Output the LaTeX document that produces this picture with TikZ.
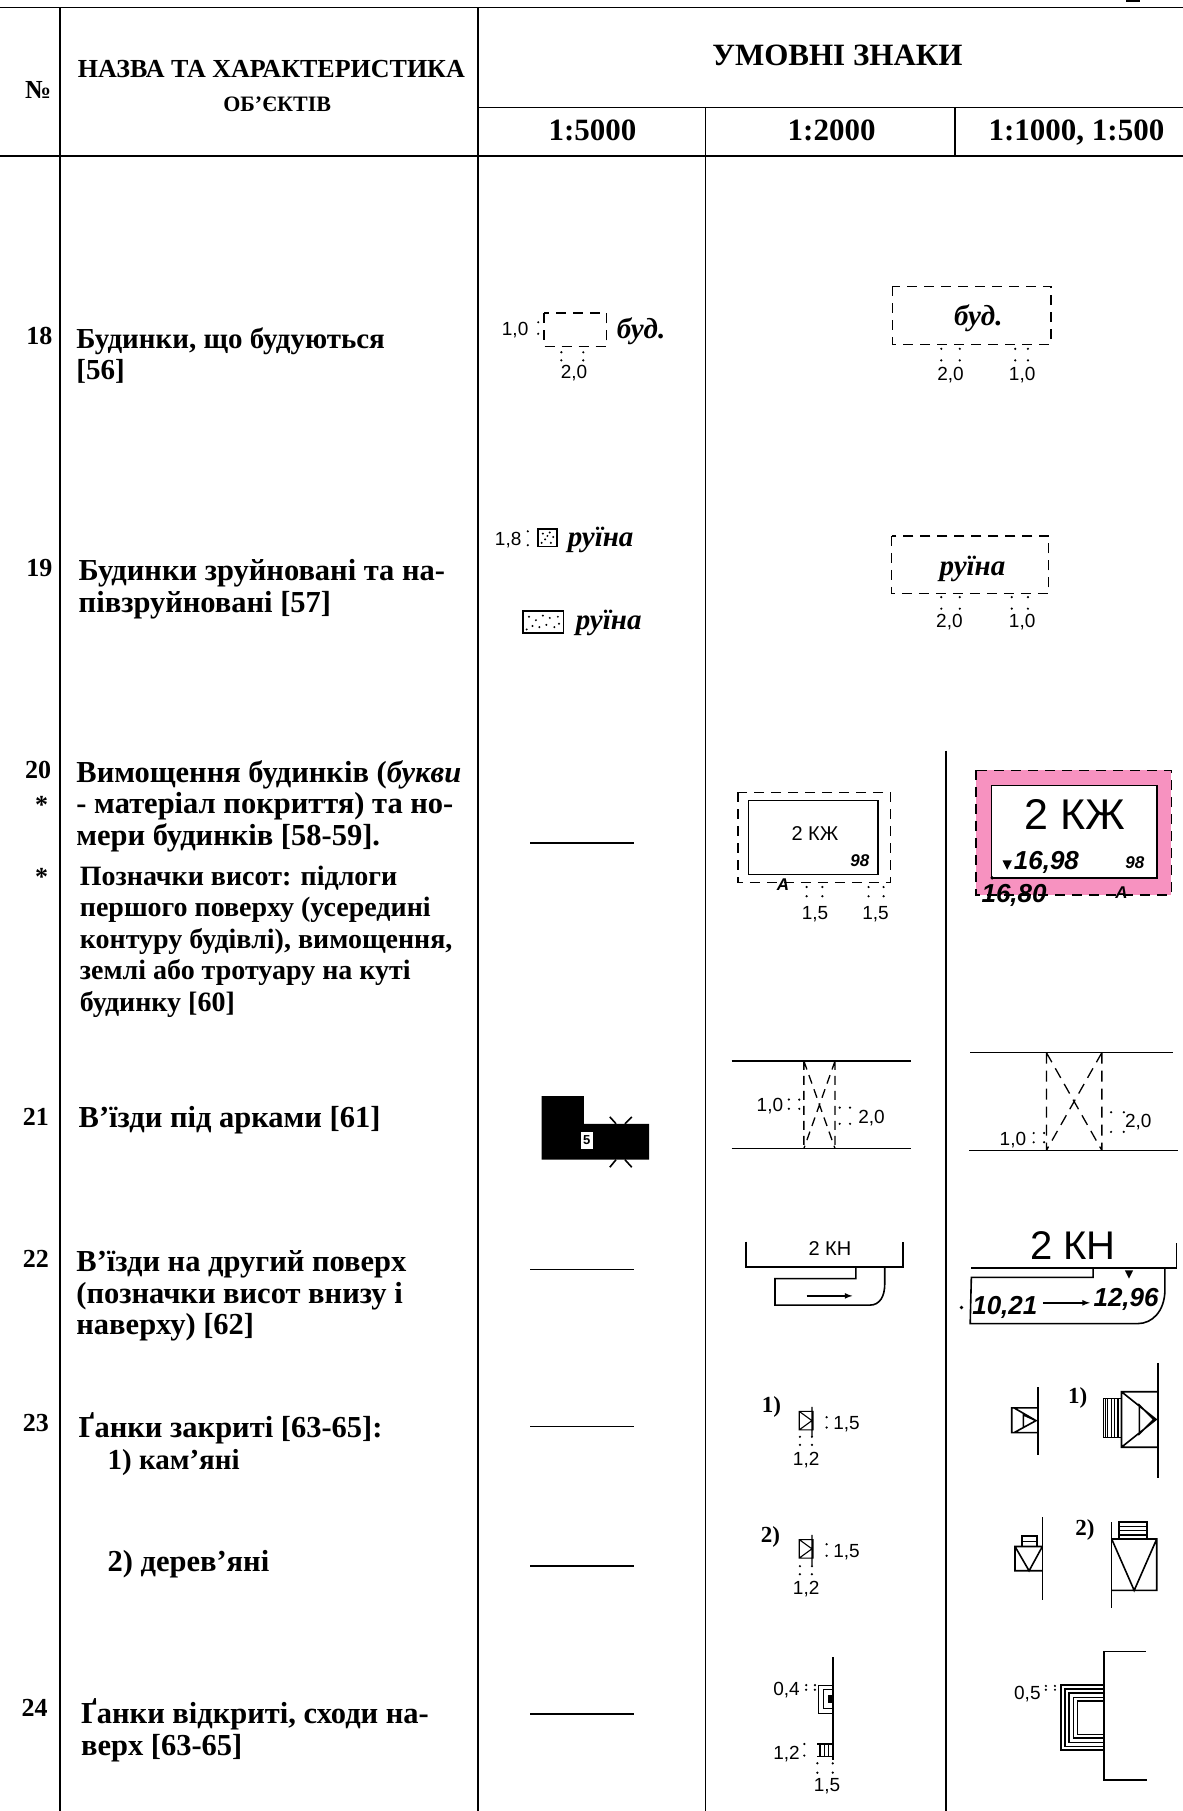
\documentclass[tikz,border=0pt]{standalone}
\usepackage{fontspec}
\setmainfont{Liberation Serif}
\setsansfont{Liberation Sans}
\usetikzlibrary{arrows}
\definecolor{ruinpink}{RGB}{247,146,192}
\newcommand{\rowfont}{\fontsize{30.5}{31.5}\selectfont\bfseries}
\newcommand{\tightfont}{\fontsize{29}{31.5}\selectfont\bfseries}
\newcommand{\heightfont}{\fontsize{28}{31.5}\selectfont\bfseries}
\tikzstyle{grid}=[draw,line width=1.6pt]
\tikzstyle{headtext}=[font=\fontsize{31}{33}\selectfont\bfseries,inner sep=0pt]
\tikzstyle{nametext}=[font=\fontsize{26}{30}\selectfont\bfseries,inner sep=0pt]
\tikzstyle{rownum}=[font=\fontsize{26}{30}\selectfont\bfseries,inner sep=0pt]
\tikzstyle{rowtext}=[font=\rowfont,anchor=west,align=left,inner sep=0pt]
\tikzstyle{tightrow}=[font=\tightfont,anchor=west,align=left,inner sep=0pt]
\tikzstyle{dimlabel}=[font=\fontsize{19}{20}\selectfont\sffamily,inner sep=0pt,yshift=-2pt]
\tikzstyle{italmark}=[font=\fontsize{29}{30}\selectfont\bfseries\itshape,inner sep=0pt,yshift=-2pt]
\tikzstyle{marksans}=[font=\fontsize{26}{28}\selectfont\sffamily\bfseries\itshape,inner sep=0pt]
\tikzstyle{smallmark}=[font=\fontsize{17}{18}\selectfont\sffamily\bfseries\itshape,inner sep=0pt]
\tikzstyle{hname}=[inner sep=0pt]
\tikzstyle{dashbox}=[draw,line width=1.3pt,dash pattern=on 10pt off 7pt]
\tikzstyle{symline}=[draw,line width=1.6pt]
\tikzstyle{thinline}=[draw,line width=1.1pt]
\tikzstyle{dimdot}=[fill=black]
\begin{document}
\begin{tikzpicture}[x=1.155pt,y=-1.155pt]
    \useasboundingbox (0,0) rectangle (1024.2,1568);

    % Draw the table rules
    \foreach \from/\to in {{(0,6.5)/(1024,6.5)}, {(414,93)/(1024,93)}, {(0,135)/(1024,135)}, {(52,6.5)/(52,1568)}, {(414,6.5)/(414,1568)}, {(611,93)/(611,1568)}, {(827,93)/(827,135)}, {(819,650)/(819,1568)}}
        \path[grid] \from -- \to;
    \fill (975,0) rectangle (987,2);

    % Then the header
    \foreach \pos/\name/\label in {{(725,48)/hsigns/УМОВНІ ЗНАКИ}, {(513,113)/hA/1:5000}, {(720,113)/hB/1:2000}, {(932,115)/hC/1:1000, 1:500}}
        \node[headtext] (\name) at \pos {\label};
    \node[nametext] (hnum) at (33,78) {№};
    \node[nametext] (hname1) at (235,60) {НАЗВА ТА ХАРАКТЕРИСТИКА};
    \node[nametext,font=\fontsize{22}{24}\selectfont\bfseries] (hname2) at (240,90) {ОБ'ЄКТІВ};

    % Row numbers
    \foreach \pos/\name/\label in {{(34,291)/n18/18}, {(34,492)/n19/19}, {(33,667)/n20/20}, {(36,697)/s1/*}, {(36,759)/s2/*}, {(31,967)/n21/21}, {(31,1090)/n22/22}, {(31,1232)/n23/23}, {(30,1479)/n24/24}}
        \node[rownum] (\name) at \pos {\label};

    % Row texts
    \node[tightrow] (t18) at (66,308) {Будинки, що будуються\\{}[56]};
    \node[rowtext] (t19) at (68,510) {Будинки зруйновані та на-\\півзруйновані [57]};
    \node[rowtext] (t20a) at (66,698) {Вимощення будинків (\textit{букви}\\- матеріал покриття) та но-\\мери будинків [58-59].};
    \node[rowtext,font=\heightfont] (t20b) at (69,815) {Позначки висот: підлоги\\першого поверху (усередині\\контуру будівлі), вимощення,\\землі або тротуару на куті\\будинку [60]};
    \node[rowtext] (t21) at (68,970) {В'їзди під арками [61]};
    \node[rowtext] (t22) at (66,1122) {В'їзди на другий поверх\\(позначки висот внизу і\\наверху) [62]};
    \node[rowtext] (t23) at (68,1237) {Ґанки закриті [63-65]:};
    \node[tightrow] (t23a) at (93,1266) {1) кам'яні};
    \node[rowtext] (t23b) at (93,1354) {2) дерев'яні};
    \node[rowtext] (t24) at (70,1498) {Ґанки відкриті, сходи на-\\верх [63-65]};

    % Dashes of the 1:5000 column
    \foreach \ypos in {730,1099,1235,1356,1484}
        \path[symline] (459,\ypos) -- (549,\ypos);

    % Pink fill below the 1:1000 house
    \fill[ruinpink] (845,667) rectangle (1014,775);
    \path[fill=white,symline] (858.5,680) rectangle (1001.5,760);

    % Dashed contours
    \foreach \corner/\other in {{(471,271)/(525,300)}, {(773,248)/(910,298)}, {(772,464)/(908,514)}, {(639,686)/(771,764)}, {(845,667)/(1014,775)}}
        \path[dashbox] \corner rectangle \other;

    % Dimension labels
    \foreach \pos/\name/\label in {{(446,284)/d1/1,0}, {(497,321)/d2/2,0}, {(823,323)/d3/2,0}, {(885,323)/d4/1,0}, {(440,466)/d5/1,8}, {(822,537)/d6/2,0}, {(885,537)/d7/1,0}, {(705.6,790)/d8/1,5}, {(758,790)/d9/1,5}, {(666.6,956)/d10/1,0}, {(754.6,966)/d11/2,0}, {(877,985.6)/d12/1,0}, {(985.5,969.7)/d13/2,0}, {(733,1231)/d14/1,5}, {(698,1262)/d15/1,2}, {(733,1342)/d16/1,5}, {(698,1374)/d17/1,2}, {(681,1461.8)/d18/0,4}, {(681,1516.6)/d19/1,2}, {(716,1545)/d20/1,5}, {(889.5,1465)/d21/0,5}}
        \node[dimlabel] (\name) at \pos {\label};

    % Dots of the dimensions
    \foreach \pos in {(466,279),(466,289),(486,305),(486,312),(505,305),(505,312),(815,302),(815,312),(831,302),(831,312),(879,302),(879,312),(890,302),(890,312),(457,460),(457,472),(815,517),(815,527),(831,517),(831,527),(876,517),(876,527),(890,517),(890,527),(698.4,768),(698.4,776),(712,768),(712,776),(752,768),(752,776),(765,768),(765,776),(683,952),(683,960),(692,952),(692,960),(727,959),(727,973),(736,959),(736,973),(895,981),(895,989),(904,981),(904,989),(962,963),(962,980),(973,963),(973,980),(715.7,1227),(715.7,1236),(692.6,1244),(692.6,1251),(703,1244),(703,1251),(715.7,1337),(715.7,1347),(692.6,1356),(692.6,1363),(703,1356),(703,1363),(698,1459),(698,1463),(705.6,1459),(705.6,1463),(696.4,1510),(696.4,1520),(707.7,1526.7),(707.7,1534.8),(721,1526.7),(721,1534.8),(905.6,1459.7),(905.6,1463),(913.4,1459.7),(913.4,1463)}
        \path[dimdot] \pos circle (1.05);

    % Italic marks
    \foreach \pos/\name/\label in {{(555,285)/m1/буд.}, {(847,274)/m2/буд.}, {(520,466)/m3/руїна}, {(527,538)/m4/руїна}, {(842,491)/m5/руїна}}
        \node[italmark] (\name) at \pos {\label};
    \foreach \pos/\name/\label in {{(906,747)/m6/16,98}, {(878,775)/m7/16,80}, {(870,1132)/m8/10,21}, {(975,1125)/m9/12,96}}
        \node[marksans] (\name) at \pos {\label};
    \foreach \pos/\name/\label in {{(744.5,745)/m10/98}, {(678,766)/m11/А}, {(982.6,747)/m12/98}, {(971,773)/m13/А}}
        \node[smallmark] (\name) at \pos {\label};

    % Ruin symbols at 1:5000
    \path[symline] (466,458) rectangle (482,473);
    \path[symline] (453,529) rectangle (488,548);
    \foreach \pos in {(470,462),(476,461),(479,465),(472,467),(477,470),(469,470),(474,464),(458,534),(464,537),(470,533),(476,535),(483,534),(461,542),(467,543),(473,541),(480,543),(484,540),(456,545)}
        \path[dimdot] \pos circle (0.95);

    % House numbers and letters in sans
    \node[hname,font=\fontsize{20}{22}\selectfont\sffamily] (h1) at (705.6,722) {2 КЖ};
    \node[hname,font=\fontsize{43}{45}\selectfont\sffamily] (h2) at (930.7,705) {2 КЖ};
    \node[hname,font=\fontsize{20}{22}\selectfont\sffamily] (h3) at (718.6,1081) {2 КН};
    \node[hname,font=\fontsize{40}{42}\selectfont\sffamily] (h4) at (929,1078) {2 КН};

    % 2000 house
    \path[symline] (648,693) rectangle (760,757);
    \fill (868,745) -- (876,745) -- (872,753) -- cycle;
    \fill (859,760) circle (1.6);

    % Arch at 1:5000
    \fill (469,949) -- (505.6,949) -- (505.6,973) -- (562,973) -- (562,1004) -- (469,1004) -- cycle;
    \path[symline] (528,967) -- (533.4,973) (547,967) -- (541,973) (533.4,1004) -- (528,1010.6) (541,1004) -- (547,1010.6);
    \fill[white] (502.8,980) rectangle (513,995);
    \node[font=\fontsize{13}{14}\selectfont\sffamily\bfseries,inner sep=0pt] (a5) at (508,987.5) {5};

    % Arch at 1:2000
    \path[symline] (633.4,918.6) -- (789,918.6) (633.4,994.5) -- (789,994.5);
    \path[dashbox,dash pattern=on 9pt off 6pt] (696,918.6) -- (696,994.5) (723,918.6) -- (723,994.5) (696,918.6) -- (723,994.5) (723,918.6) -- (696,994.5);

    % Arch at 1:1000
    \path[symline] (840,911.4) -- (1016,911.4) (839,996) -- (1020,996);
    \path[dashbox,dash pattern=on 11pt off 7pt] (906,911.4) -- (906,996) (954,911.4) -- (954,996) (906,911.4) -- (954,996) (954,911.4) -- (906,996);

    % Entrance at 1:2000
    \path[symline] (645.8,1075) -- (645.8,1097) -- (782,1097) -- (782,1075);
    \path[symline] (741,1097) -- (741,1107) -- (671,1107) -- (671,1130) -- (753,1130) .. controls (762,1130) and (766,1122) .. (766,1112) -- (766,1097);
    \path[symline,-latex] (698.4,1122) -- (738,1122);

    % Entrance at 1:1000
    \path[symline] (841,1098) -- (1018.7,1098) -- (1018.7,1076);
    \path[symline] (946.5,1098) -- (946.5,1106) -- (841,1106) -- (840,1146) -- (985,1146) .. controls (998,1146) and (1008,1135) .. (1008.6,1118) -- (1008.6,1098);
    \path[symline,-latex] (903,1128) -- (943.7,1128);
    \fill (832.5,1132) circle (1.6);
    \fill (974,1100) -- (981,1100) -- (977.5,1107) -- cycle;

    % Porch labels
    \foreach \pos/\name/\label in {{(668,1218)/p1/1)}, {(667,1331)/p2/2)}, {(933,1210)/p3/1)}, {(939.4,1324.7)/p4/2)}}
        \node[nametext,font=\fontsize{23}{25}\selectfont\bfseries] (\name) at \pos {\label};

    % Small closed porches at 1:2000
    \path[thinline] (692,1222) rectangle (704,1238) (703,1218) -- (703,1244) (692,1222) -- (703,1230) -- (692,1238);
    \path[thinline] (692,1333) rectangle (704,1349) (703,1329) -- (703,1355) (692,1333) -- (703,1341) -- (692,1349);

    % Closed porches at 1:1000
    \path[symline] (898.5,1201) -- (898.5,1260);
    \path[symline] (898.5,1219) -- (876,1219) -- (876,1240.4) -- (898.5,1240.4) (878,1219) -- (897,1230) -- (878,1240.4) (886,1225) -- (897,1230) -- (886,1236) -- cycle;
    \path[symline] (1002.4,1180) -- (1002.4,1280);
    \path[symline] (1002.4,1205) -- (971,1205) -- (971,1253) -- (1002.4,1253) (971,1205) -- (1001,1229) -- (971,1253) (986.5,1216.5) -- (999,1229) -- (986.5,1241.5) -- cycle;
    \path[symline] (955.3,1210.7) rectangle (971,1244.7);
    \foreach \xpos in {957,959,962,965,968}
        \path[thinline] (\xpos,1210.7) -- (\xpos,1244.7);

    \path[symline] (902.5,1313.7) -- (902.5,1385);
    \path[symline] (902.5,1339) -- (878.8,1339) -- (878.8,1360) -- (902.5,1360) (878.8,1339) -- (891,1360) -- (902.5,1339);
    \path[symline] (884.6,1339) -- (884.6,1330) -- (897.6,1330) -- (897.6,1339) (884.6,1334.5) -- (897.6,1334.5);
    \path[symline] (962.5,1318) -- (962.5,1392.5);
    \path[symline] (962.5,1332.5) -- (1001.5,1332.5) -- (1001.5,1377) -- (962.5,1377) (962.5,1332.5) -- (982,1377) -- (1001.5,1332.5);
    \path[symline] (969,1332.5) -- (969,1318) -- (993,1318) -- (993,1332.5);
    \foreach \ypos in {1322,1325,1329}
        \path[thinline] (969,\ypos) -- (993,\ypos);

    % Open porches at 1:2000
    \path[symline] (721,1435) -- (721,1524);
    \path[thinline] (721,1459) -- (709,1459) -- (709,1483.4) -- (721,1483.4) (721,1463) -- (712.8,1463) -- (712.8,1479) -- (721,1479);
    \fill (717,1467.5) rectangle (721,1474.8);
    \path[thinline] (707.7,1510) -- (721,1510) (707.7,1521) -- (721,1521);
    \foreach \xpos in {710,713.5,717}
        \path[thinline] (\xpos,1510) -- (\xpos,1521);

    % Open porch at 1:1000
    \path[symline] (992.2,1430) -- (955.8,1430) -- (955.8,1541) -- (993,1541);
    \foreach \xpos/\ytop/\ybot in {918.6/1459/1515, 922/1462.6/1512.3, 925.5/1466/1508.8, 929.3/1469.6/1505, 932.8/1472.7/1501.6}
        \path[symline] (955.8,\ytop) -- (\xpos,\ytop) -- (\xpos,\ybot) -- (955.8,\ybot);
\end{tikzpicture}
\end{document}
